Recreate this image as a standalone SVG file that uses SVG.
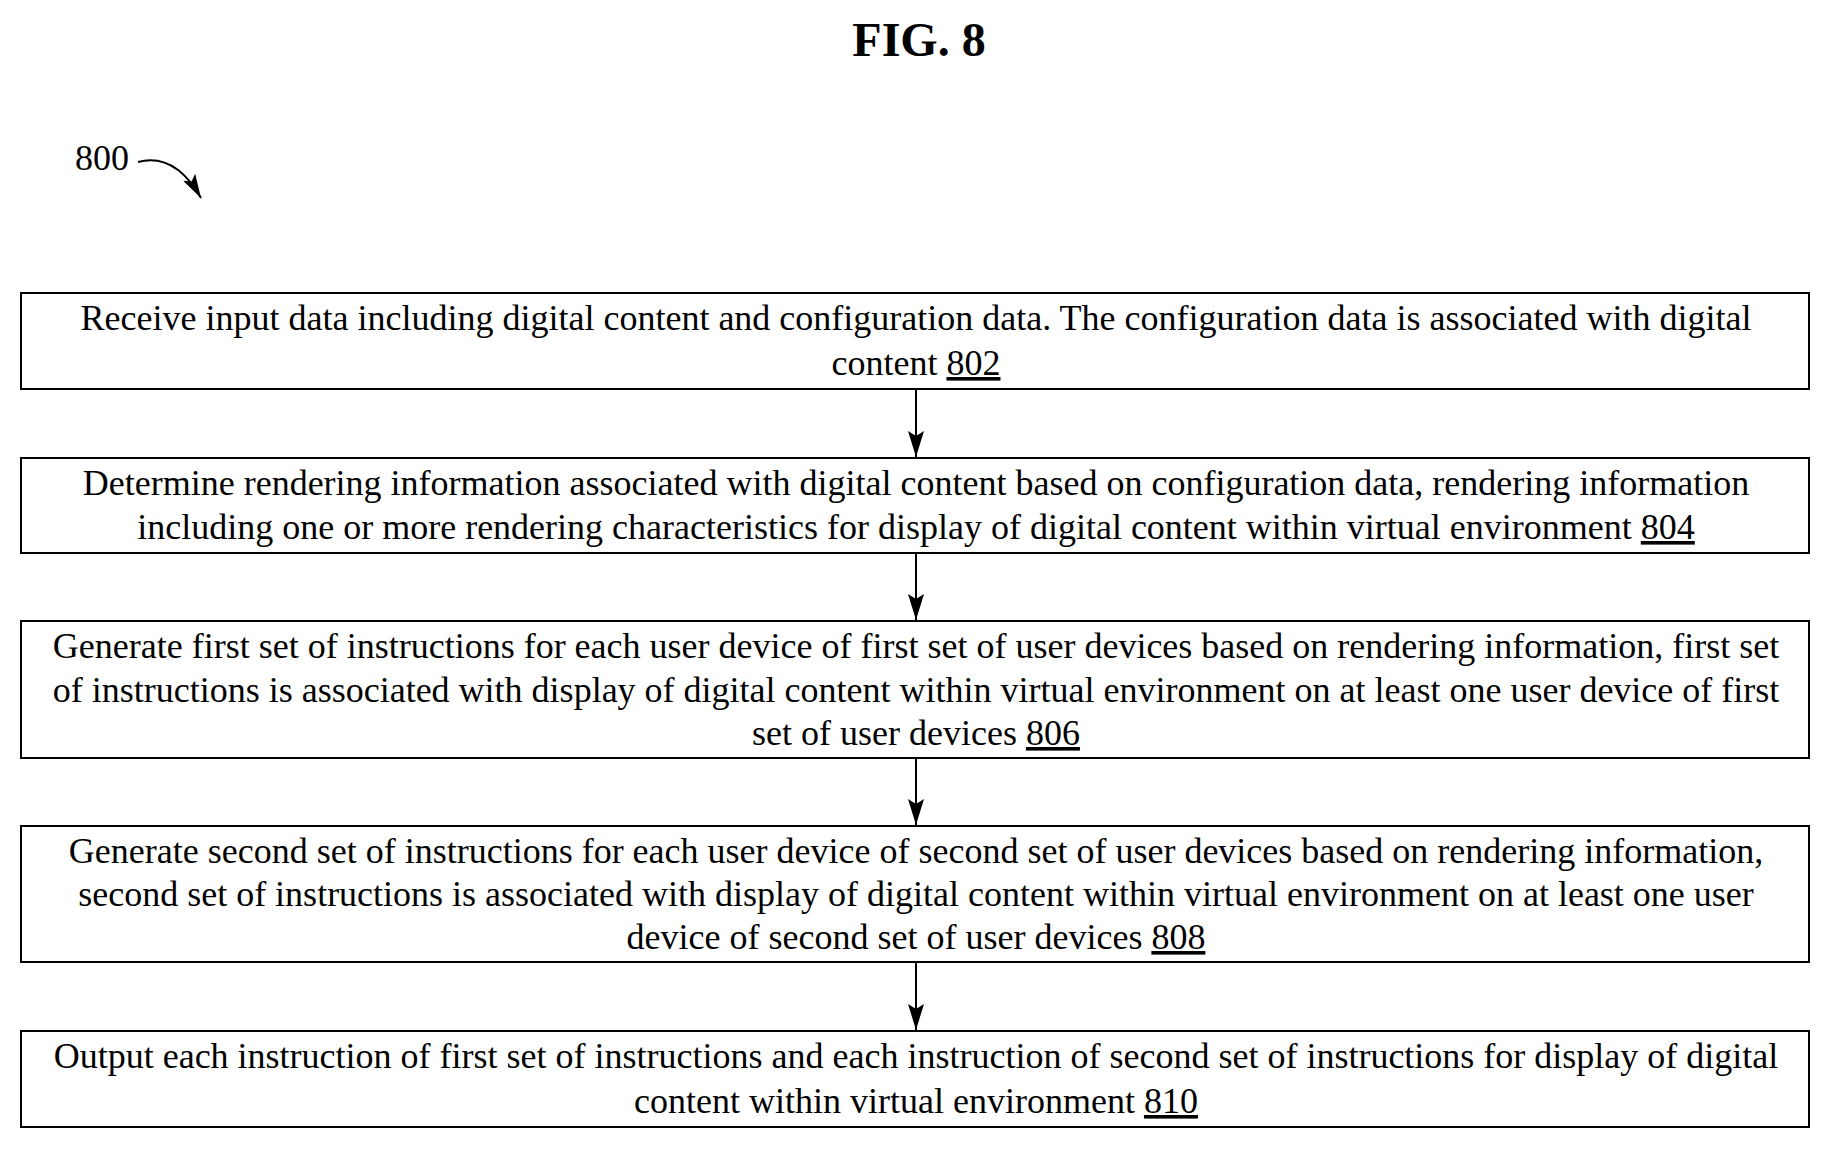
<svg xmlns="http://www.w3.org/2000/svg" width="1831" height="1149" viewBox="0 0 1831 1149">
<style>
text{font-family:"Liberation Serif","Times New Roman",serif;font-size:36px;fill:#000;text-anchor:middle}
.box{fill:#fff;stroke:#000;stroke-width:2}
.c{stroke:#000;stroke-width:2;fill:none}
</style>
<defs><marker id="ah" markerWidth="26" markerHeight="16" refX="26" refY="8" orient="auto" markerUnits="userSpaceOnUse" viewBox="0 0 26 16"><path d="M0,0 L26,8 L0,16 L5,8 Z" fill="#000"/></marker>
<marker id="ah2" markerWidth="24" markerHeight="14" refX="24" refY="7" orient="auto" markerUnits="userSpaceOnUse" viewBox="0 0 24 14"><path d="M0,0 L24,7 L0,14 L5,7 Z" fill="#000"/></marker></defs>
<rect width="1831" height="1149" fill="#fff"/>
<text x="919" y="56" style="font-weight:bold;font-size:48px">FIG. 8</text>
<g id="ref800"><text x="102" y="170">800</text><path class="c" d="M138,162 C165,155 185,170 201,198" marker-end="url(#ah2)"/></g>
<g id="connectors">
<line class="c" x1="916" y1="389" x2="916" y2="457" marker-end="url(#ah)"/>
<line class="c" x1="916" y1="553" x2="916" y2="620" marker-end="url(#ah)"/>
<line class="c" x1="916" y1="758" x2="916" y2="825" marker-end="url(#ah)"/>
<line class="c" x1="916" y1="962" x2="916" y2="1030" marker-end="url(#ah)"/>
</g>
<g id="n802"><rect class="box" x="21" y="293" width="1788" height="96"/>
<text x="916" y="330">Receive input data including digital content and configuration data. The configuration data is associated with digital</text>
<text x="916" y="375">content <tspan text-decoration="underline">802</tspan></text></g>
<g id="n804"><rect class="box" x="21" y="458" width="1788" height="95"/>
<text x="916" y="495">Determine rendering information associated with digital content based on configuration data, rendering information</text>
<text x="916" y="539">including one or more rendering characteristics for display of digital content within virtual environment <tspan text-decoration="underline">804</tspan></text></g>
<g id="n806"><rect class="box" x="21" y="621" width="1788" height="137"/>
<text x="916" y="658">Generate first set of instructions for each user device of first set of user devices based on rendering information, first set</text>
<text x="916" y="702">of instructions is associated with display of digital content within virtual environment on at least one user device of first</text>
<text x="916" y="745">set of user devices <tspan text-decoration="underline">806</tspan></text></g>
<g id="n808"><rect class="box" x="21" y="826" width="1788" height="136"/>
<text x="916" y="863">Generate second set of instructions for each user device of second set of user devices based on rendering information,</text>
<text x="916" y="906">second set of instructions is associated with display of digital content within virtual environment on at least one user</text>
<text x="916" y="949">device of second set of user devices <tspan text-decoration="underline">808</tspan></text></g>
<g id="n810"><rect class="box" x="21" y="1031" width="1788" height="96"/>
<text x="916" y="1068">Output each instruction of first set of instructions and each instruction of second set of instructions for display of digital</text>
<text x="916" y="1113">content within virtual environment <tspan text-decoration="underline">810</tspan></text></g>
</svg>
